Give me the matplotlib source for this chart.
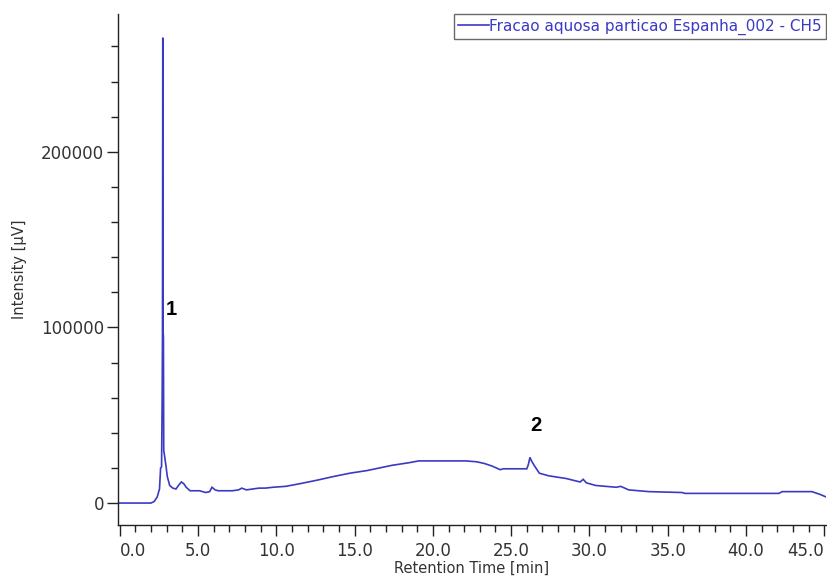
import matplotlib
matplotlib.use("Agg")
import matplotlib.pyplot as plt
from matplotlib.ticker import MultipleLocator, FormatStrFormatter

# Retention time (min) and intensity (µV)
time_min = [0.0, 0.5, 1.0, 1.5, 2.0, 2.2, 2.4, 2.55, 2.62, 2.68, 2.72, 2.74, 2.76,
            2.78, 2.80, 2.82, 2.87, 2.95, 3.05, 3.2, 3.4, 3.6, 3.8, 3.95, 4.1, 4.25,
            4.5, 5.1, 5.5, 5.75, 5.9, 6.1, 6.3, 7.2, 7.6, 7.8, 8.1, 8.5, 8.9, 9.3,
            9.8, 10.6, 11.5, 12.6, 13.6, 14.7, 15.8, 16.6, 17.4, 18.5, 19.1, 20.0,
            21.0, 22.1, 22.8, 23.3, 23.8, 24.3, 24.5, 25.2, 26.0, 26.1, 26.2, 26.3,
            26.5, 26.8, 27.4, 28.5, 29.4, 29.6, 29.8, 30.4, 31.7, 32.0, 32.5, 33.8,
            35.9, 36.1, 38.0, 40.0, 42.1, 42.3, 43.5, 44.2, 44.7, 45.1]
intensity = [0, 0, 0, 0, 0, 800, 3400, 8000, 20000, 20500, 60000, 97000, 265000,
             97000, 95000, 30000, 27000, 22000, 15000, 10000, 8500, 8000, 10500,
             12000, 11000, 9000, 7000, 7000, 6000, 6500, 9000, 7500, 7000, 7000,
             7500, 8500, 7500, 8000, 8500, 8500, 9000, 9500, 11000, 13000, 15000,
             17000, 18500, 20000, 21500, 23000, 24000, 24000, 24000, 24000, 23500,
             22500, 21000, 19000, 19500, 19500, 19500, 22000, 26000, 24000, 21000,
             17000, 15500, 14000, 12000, 13500, 11500, 10000, 9000, 9500, 7500, 6500,
             6000, 5500, 5500, 5500, 5500, 6500, 6500, 6500, 5000, 3500]

series_label = "Fracao aquosa particao Espanha_002 - CH5"
x_label = "Retention Time [min]"
y_label = "Intensity [\u00b5V]"
peak_labels = ["1", "2"]
peak_label_pos = [(3.3, 110000), (26.55, 44000)]

line_color = "#3a3ac4"
text_gray = "#333333"

fig = plt.figure(figsize=(8.28, 5.77), dpi=100)
ax = fig.add_axes([118/828, 52/577, (826-118)/828, (525-14)/577])

ax.plot(time_min, intensity, color=line_color, lw=1.2, label=series_label,
        solid_joinstyle="miter")

ax.set_xlim(-0.1, 45.1)
ax.set_ylim(-12500, 278500)

for s in ["top", "right"]:
    ax.spines[s].set_visible(False)
for s in ["left", "bottom"]:
    ax.spines[s].set_color("#222222")
    ax.spines[s].set_linewidth(1.0)

ax.xaxis.set_major_locator(MultipleLocator(5))
ax.xaxis.set_minor_locator(MultipleLocator(1))
ax.xaxis.set_major_formatter(FormatStrFormatter("%.1f"))
ax.yaxis.set_major_locator(MultipleLocator(100000))
ax.yaxis.set_minor_locator(MultipleLocator(20000))

ax.tick_params(axis="both", which="major", length=8, width=1, color="#222222",
               labelsize=12, labelcolor=text_gray, direction="out")
ax.tick_params(axis="both", which="minor", length=5, width=1, color="#222222",
               direction="out")
ax.tick_params(axis="x", which="major", pad=4)
ax.tick_params(axis="y", which="major", pad=2)

fig.canvas.draw()
for t in ax.get_xticklabels():
    if t.get_text() == "0.0":
        t.set_ha("left")
    if t.get_text() == "45.0":
        t.set_ha("right")

ax.set_xlabel(x_label, fontsize=10.5, color=text_gray, labelpad=1)
ax.set_ylabel(y_label, fontsize=10.5, color=text_gray)
ax.yaxis.set_label_coords(-0.128, 0.5)

for lab, (px, py) in zip(peak_labels, peak_label_pos):
    ax.text(px, py, lab, fontsize=14.5, fontweight="bold", color="black",
            family="Liberation Sans", ha="center", va="center")

leg = ax.legend(loc="upper right", bbox_to_anchor=(1.0, 1.0), borderaxespad=0,
                frameon=True, fancybox=False, fontsize=11.0, handlelength=2.0,
                handletextpad=0.0, borderpad=0.3, labelcolor=line_color)
leg.get_frame().set_edgecolor("#444444")
leg.get_frame().set_linewidth(1.0)

fig.savefig("out.png", dpi=100)
